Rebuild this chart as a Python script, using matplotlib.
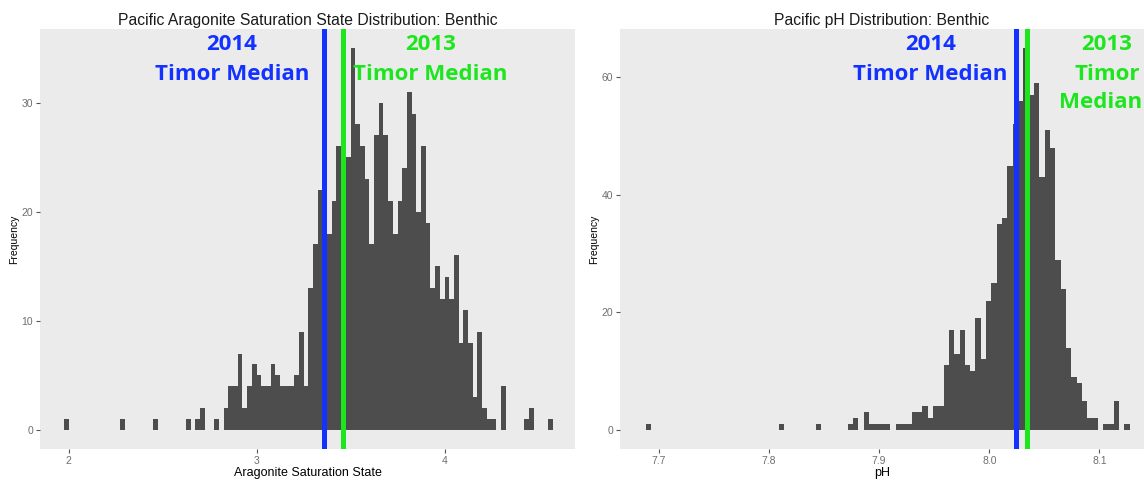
import numpy as np
import matplotlib
matplotlib.use('Agg')
import matplotlib.pyplot as plt

plt.rcParams['font.family'] = ['Liberation Sans', 'DejaVu Sans']

# aragonite saturation state, benthic samples (bins of 0.025 starting at 1.975)
arag_start = 1.975
arag_binwidth = 0.025
arag_counts = [
    1, 0, 0, 0, 0, 0, 0, 0, 0, 0, 0, 0,
    1, 0, 0, 0, 0, 0, 0,
    1, 0, 0, 0, 0, 0, 0,
    1, 0, 1, 2, 0, 0,
    1, 0, 2, 4, 4, 7, 2, 4, 6, 5, 4, 4, 6, 5, 4, 4, 4, 5, 9, 4, 13, 17, 22, 20,
    18, 21, 26, 27, 25, 35, 28, 26, 23, 17, 27, 30, 27, 21, 18, 21, 24, 31, 29,
    20, 26, 19, 13, 15, 12, 14, 12, 16, 8, 11, 8, 3, 9, 2, 1, 1, 0, 4,
    0, 0, 0, 0, 1, 2, 0, 0, 0, 1,
]
arag_median_2014 = 3.36
arag_median_2013 = 3.46
arag_xticks = [2, 3, 4]
arag_yticks = [0, 10, 20, 30]

# pH, benthic samples
ph_start = 7.688
ph_binwidth = 0.00483
ph_counts = [
    1,
    0, 0, 0, 0, 0, 0, 0, 0, 0, 0, 0, 0, 0, 0, 0, 0, 0, 0, 0, 0, 0, 0, 0, 0,
    1, 0, 0, 0, 0, 0, 0,
    1, 0, 0, 0, 0, 0,
    1, 2, 0, 3, 1, 1, 1, 1, 0, 1, 1, 1, 3, 3, 4, 2, 4, 4,
    11, 17, 13, 17, 11, 10, 19, 12, 22, 25,
    35, 36, 45, 52, 56, 65, 57, 59, 43, 51, 48,
    29, 24, 14, 9, 8, 5, 2, 2, 0, 1, 1, 5, 0, 1,
]
ph_median_2014 = 8.0241
ph_median_2013 = 8.0339
ph_xticks = [7.7, 7.8, 7.9, 8.0, 8.1]
ph_xticklabels = ['7.7', '7.8', '7.9', '8.0', '8.1']
ph_yticks = [0, 20, 40, 60]

BLUE = '#1432ff'
GREEN = '#1ee61e'
BAR = '#4d4d4d'
PANEL = '#ebebeb'


def style_axes(ax):
    ax.set_facecolor(PANEL)
    for s in ax.spines.values():
        s.set_visible(False)
    ax.tick_params(length=3, width=0.8, color='#555555', labelcolor='#6e6e6e',
                   labelsize=7.5, pad=2)


def draw_hist(ax, start, width, counts):
    edges = start + width * np.arange(len(counts) + 1)
    ax.stairs(counts, edges, fill=True, color=BAR, linewidth=0)


def label(ax, x, y, s, color):
    ax.text(x, y, s, transform=ax.transAxes, ha='center', va='baseline',
            color=color, fontsize=16, fontweight='bold',
            family=['Open Sans', 'DejaVu Sans'])


fig = plt.figure(figsize=(11.44, 4.8), dpi=100)
ax1 = fig.add_axes([40 / 1144, 31 / 480, 535 / 1144, 420 / 480])
ax2 = fig.add_axes([620 / 1144, 31 / 480, 524 / 1144, 420 / 480])

# aragonite panel
style_axes(ax1)
draw_hist(ax1, arag_start, arag_binwidth, arag_counts)
ax1.axvline(arag_median_2014, color=BLUE, lw=3.6)
ax1.axvline(arag_median_2013, color=GREEN, lw=3.6)
ax1.set_xlim(1.848, 4.694)
ax1.set_ylim(-1.75, 36.75)
ax1.set_xticks(arag_xticks)
ax1.set_yticks(arag_yticks)
ax1.set_title('Pacific Aragonite Saturation State Distribution: Benthic',
              fontsize=11.3, pad=3, color='#1a1a1a')
ax1.set_xlabel('Aragonite Saturation State', fontsize=9, labelpad=1)
ax1.set_ylabel('Frequency', fontsize=7.5, labelpad=2)
label(ax1, 0.359, 0.95, '2014', BLUE)
label(ax1, 0.359, 0.879, 'Timor Median', BLUE)
label(ax1, 0.73, 0.95, '2013', GREEN)
label(ax1, 0.73, 0.879, 'Timor Median', GREEN)

# pH panel
style_axes(ax2)
draw_hist(ax2, ph_start, ph_binwidth, ph_counts)
ax2.axvline(ph_median_2014, color=BLUE, lw=3.6)
ax2.axvline(ph_median_2013, color=GREEN, lw=3.6)
ax2.set_xlim(7.6648, 8.1404)
ax2.set_ylim(-3.25, 68.25)
ax2.set_xticks(ph_xticks)
ax2.set_xticklabels(ph_xticklabels)
ax2.set_yticks(ph_yticks)
ax2.set_title('Pacific pH Distribution: Benthic', fontsize=11.3, pad=3,
              color='#1a1a1a')
ax2.set_xlabel('pH', fontsize=9, labelpad=1)
ax2.set_ylabel('Frequency', fontsize=7.5, labelpad=2)
label(ax2, 0.592, 0.95, '2014', BLUE)
label(ax2, 0.592, 0.879, 'Timor Median', BLUE)
label(ax2, 0.929, 0.95, '2013', GREEN)
label(ax2, 0.929, 0.879, 'Timor', GREEN)
label(ax2, 0.918, 0.811, 'Median', GREEN)

fig.savefig('out.png', dpi=100)
